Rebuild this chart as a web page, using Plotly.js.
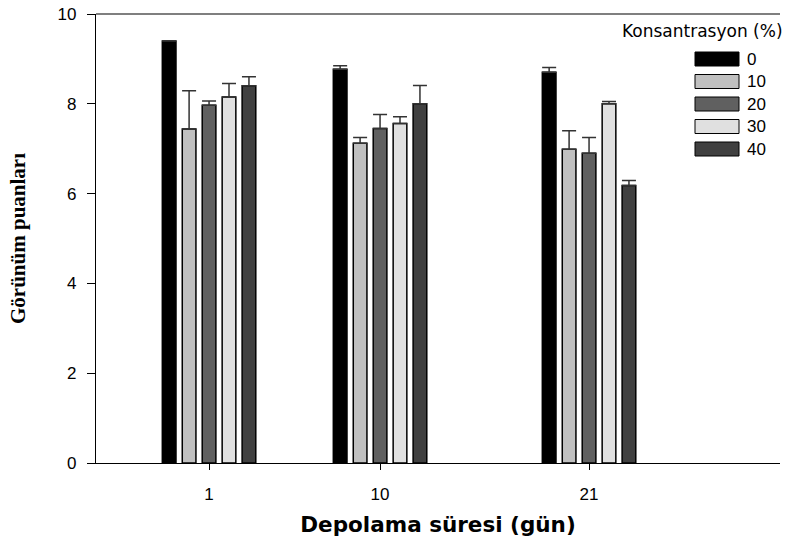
<!DOCTYPE html>
<html><head><meta charset="utf-8">
<script src="https://cdn.plot.ly/plotly-3.0.1.min.js"></script>
<style>html,body{margin:0;padding:0;background:#fff}</style>
</head><body>
<div id="chart" style="width:789px;height:545px"></div>
<script>
const days = [1, 10, 21];
const concLabels = ['0', '10', '20', '30', '40'];
const colors = ['#000000', '#c0c0c0', '#606060', '#e0e0e0', '#404040'];
const c0 = [9.40, 8.77, 8.70];
const c10 = [7.44, 7.12, 6.99];
const c20 = [7.97, 7.45, 6.90];
const c30 = [8.15, 7.56, 8.00];
const c40 = [8.40, 8.00, 6.18];
const e0 = [0.00, 0.08, 0.11];
const e10 = [0.85, 0.13, 0.41];
const e20 = [0.09, 0.31, 0.35];
const e30 = [0.30, 0.15, 0.05];
const e40 = [0.20, 0.41, 0.11];

const series = [c0, c10, c20, c30, c40];
const errs = [e0, e10, e20, e30, e40];
const barW = 0.72, step = 1.05;

const traces = series.map((vals, i) => ({
  type: 'bar', x: days, y: vals, name: concLabels[i],
  width: barW, offset: (i - 2) * step - barW / 2,
  marker: {color: colors[i], line: {color: '#000', width: 1.5}},
  error_y: {type: 'data', symmetric: false, array: errs[i], arrayminus: [0,0,0],
            color: '#333', thickness: 1.5, width: 7},
  showlegend: false, hoverinfo: 'none'
}));

const shapes = [{type: 'line', xref: 'paper', yref: 'paper', x0: 0, x1: 1, y0: 1, y1: 1,
                 line: {color: '#000', width: 1.2}}];
const annotations = [{xref: 'paper', yref: 'paper', x: 1.008, y: 0.962, xanchor: 'right', yanchor: 'middle',
  text: 'Konsantrasyon (%)', showarrow: false, font: {family: 'DejaVu Sans', size: 17, color: '#000'}}];
concLabels.forEach((lab, i) => {
  const yc = 59 + i * 22.5;
  shapes.push({type: 'rect', xref: 'paper', yref: 'paper',
    x0: (695 - 96) / 684, x1: (739 - 96) / 684,
    y0: (463 - yc - 7) / 449, y1: (463 - yc + 7) / 449,
    fillcolor: colors[i], line: {color: '#000', width: 1}});
  annotations.push({xref: 'paper', yref: 'paper', x: (745 - 96) / 684, y: (463 - yc) / 449,
    xanchor: 'left', yanchor: 'middle', text: lab, showarrow: false,
    font: {family: 'Liberation Sans, Arial', size: 17, color: '#000'}});
});

const layout = {
  width: 789, height: 545,
  margin: {l: 96, r: 9, t: 14, b: 82},
  paper_bgcolor: '#fff', plot_bgcolor: '#fff',
  barmode: 'overlay',
  xaxis: {range: [-4.95, 31.05], tickvals: days, ticktext: days.map(String),
    showgrid: false, zeroline: false, showline: true, linecolor: '#000', linewidth: 1.2,
    ticks: 'outside', ticklen: 6, tickcolor: '#000', ticklabelstandoff: 9,
    tickfont: {family: 'Liberation Sans, Arial', size: 17, color: '#000'},
    title: {text: 'Depolama süresi (gün)', standoff: 14,
      font: {family: 'DejaVu Sans', size: 21.5, color: '#000', weight: 'bold'}}},
  yaxis: {range: [0, 10], tickvals: [0, 2, 4, 6, 8, 10],
    showgrid: false, zeroline: false, showline: true, linecolor: '#000', linewidth: 1.2,
    ticks: 'outside', ticklen: 8, tickcolor: '#000', ticklabelstandoff: 7,
    tickfont: {family: 'Liberation Sans, Arial', size: 17, color: '#000'},
    title: {text: 'Görünüm puanları', standoff: 26,
      font: {family: 'Liberation Serif', size: 21, color: '#000', weight: 'bold'}}},
  shapes: shapes, annotations: annotations
};
Plotly.newPlot('chart', traces, layout, {displayModeBar: false, staticPlot: true});
</script>
</body></html>
